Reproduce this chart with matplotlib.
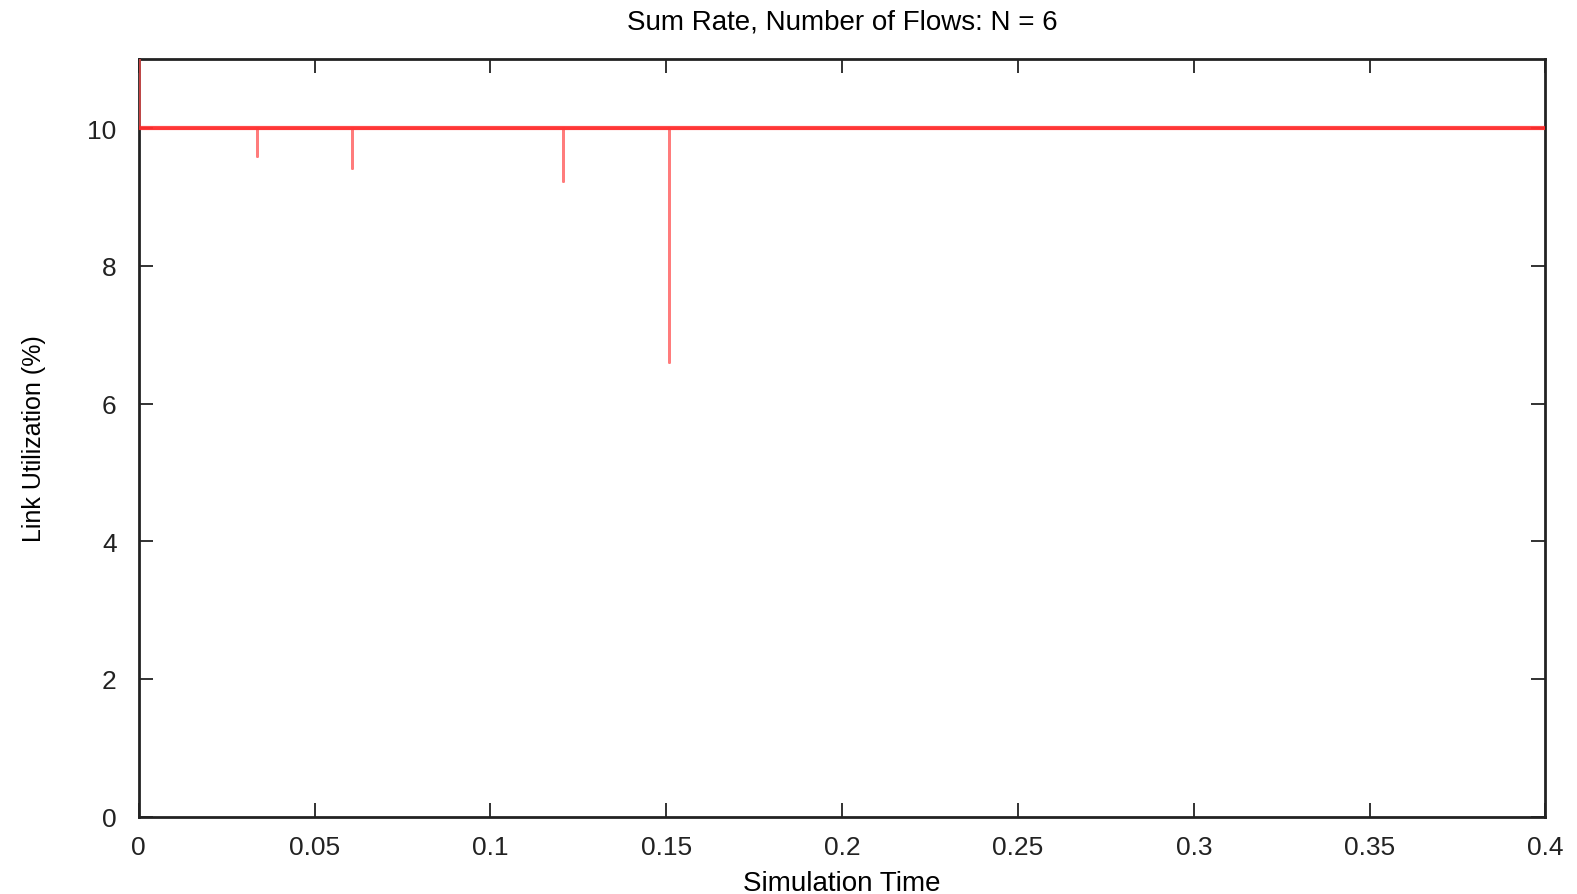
import matplotlib.pyplot as plt

plt.rcParams['font.family'] = ['Liberation Sans', 'DejaVu Sans']

# Sum rate samples (time, rate); dips are single-instant drops
time = [0.0, 0.0, 0.0337, 0.0337, 0.0337, 0.0606, 0.0606, 0.0606,
        0.1207, 0.1207, 0.1207, 0.1507, 0.1507, 0.1507, 0.4]
rate = [11.0, 10.0, 10.0, 9.6, 10.0, 10.0, 9.42, 10.0,
        10.0, 9.24, 10.0, 10.0, 6.6, 10.0, 10.0]
base_time = [0.0, 0.4]
base_rate = [10.0, 10.0]

xticks = [0, 0.05, 0.1, 0.15, 0.2, 0.25, 0.3, 0.35, 0.4]
xlabels = ['0', '0.05', '0.1', '0.15', '0.2', '0.25', '0.3', '0.35', '0.4']
yticks = [0, 2, 4, 6, 8, 10]

fig = plt.figure(figsize=(15.77, 8.95), dpi=100)
ax = fig.add_axes([0.088, 0.0865, 0.892, 0.846])

ax.plot(time, rate, color='#ff5050', linewidth=2, alpha=0.75, zorder=3)
ax.plot(base_time, base_rate, color='#ff2a2a', linewidth=3, alpha=0.85, zorder=3)

ax.set_xlim(0, 0.4)
ax.set_ylim(0, 11)
ax.set_xticks(xticks)
ax.set_xticklabels(xlabels)
ax.set_yticks(yticks)
ax.tick_params(direction='in', length=10, width=1.3, top=True, right=True,
               labelsize=19, colors='#222222')
ax.tick_params(axis='x', pad=13)
ax.tick_params(axis='y', pad=16)
for s in ax.spines.values():
    s.set_linewidth(2)
    s.set_color('#222222')

ax.set_title('Sum Rate, Number of Flows: N = 6', fontsize=20, pad=22)
ax.set_xlabel('Simulation Time', fontsize=20, labelpad=8)
ax.set_ylabel('Link Utilization (%)', fontsize=18, labelpad=30)

plt.savefig('out.png', dpi=100)
